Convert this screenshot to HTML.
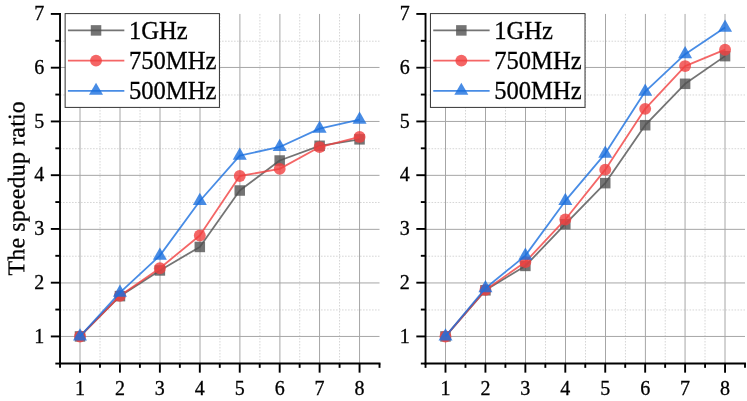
<!DOCTYPE html>
<html><head><meta charset="utf-8"><title>Speedup ratio</title>
<style>
html,body{margin:0;padding:0;background:#fff;}
body{width:747px;height:401px;overflow:hidden;}
svg{display:block;will-change:transform;}
text{font-family:"Liberation Serif",serif;fill:#000;stroke:#000;stroke-width:0.3px;}
.tk{font-size:20px;}
.lg{font-size:24.6px;}
.yl{font-size:24px;letter-spacing:0.15px;text-rendering:geometricPrecision;}
</style></head><body>
<svg width="747" height="401" viewBox="0 0 747 401">
<rect x="0" y="0" width="747" height="401" fill="#fff"/>
<line x1="60.03" y1="309.96" x2="379.51" y2="309.96" stroke="#d6d6d6" stroke-width="1" stroke-dasharray="1.6 1.4"/>
<line x1="60.03" y1="256.21" x2="379.51" y2="256.21" stroke="#d6d6d6" stroke-width="1" stroke-dasharray="1.6 1.4"/>
<line x1="60.03" y1="202.47" x2="379.51" y2="202.47" stroke="#d6d6d6" stroke-width="1" stroke-dasharray="1.6 1.4"/>
<line x1="60.03" y1="148.72" x2="379.51" y2="148.72" stroke="#d6d6d6" stroke-width="1" stroke-dasharray="1.6 1.4"/>
<line x1="60.03" y1="94.97" x2="379.51" y2="94.97" stroke="#d6d6d6" stroke-width="1" stroke-dasharray="1.6 1.4"/>
<line x1="60.03" y1="41.21" x2="379.51" y2="41.21" stroke="#d6d6d6" stroke-width="1" stroke-dasharray="1.6 1.4"/>
<line x1="100" y1="13.94" x2="100" y2="363.55" stroke="#d6d6d6" stroke-width="1" stroke-dasharray="1.6 1.4"/>
<line x1="140" y1="13.94" x2="140" y2="363.55" stroke="#d6d6d6" stroke-width="1" stroke-dasharray="1.6 1.4"/>
<line x1="180" y1="13.94" x2="180" y2="363.55" stroke="#d6d6d6" stroke-width="1" stroke-dasharray="1.6 1.4"/>
<line x1="219.95" y1="13.94" x2="219.95" y2="363.55" stroke="#d6d6d6" stroke-width="1" stroke-dasharray="1.6 1.4"/>
<line x1="259.9" y1="13.94" x2="259.9" y2="363.55" stroke="#d6d6d6" stroke-width="1" stroke-dasharray="1.6 1.4"/>
<line x1="299.73" y1="13.94" x2="299.73" y2="363.55" stroke="#d6d6d6" stroke-width="1" stroke-dasharray="1.6 1.4"/>
<line x1="339.55" y1="13.94" x2="339.55" y2="363.55" stroke="#d6d6d6" stroke-width="1" stroke-dasharray="1.6 1.4"/>
<line x1="60.03" y1="336.45" x2="379.51" y2="336.45" stroke="#a6a6a6" stroke-width="1"/>
<line x1="60.03" y1="282.95" x2="379.51" y2="282.95" stroke="#a6a6a6" stroke-width="1"/>
<line x1="60.03" y1="229.35" x2="379.51" y2="229.35" stroke="#a6a6a6" stroke-width="1"/>
<line x1="60.03" y1="175.35" x2="379.51" y2="175.35" stroke="#a6a6a6" stroke-width="1"/>
<line x1="60.03" y1="121.45" x2="379.51" y2="121.45" stroke="#a6a6a6" stroke-width="1"/>
<line x1="60.03" y1="67.45" x2="379.51" y2="67.45" stroke="#a6a6a6" stroke-width="1"/>
<line x1="80" y1="13.94" x2="80" y2="363.55" stroke="#a6a6a6" stroke-width="1"/>
<line x1="120" y1="13.94" x2="120" y2="363.55" stroke="#a6a6a6" stroke-width="1"/>
<line x1="160" y1="13.94" x2="160" y2="363.55" stroke="#a6a6a6" stroke-width="1"/>
<line x1="200" y1="13.94" x2="200" y2="363.55" stroke="#a6a6a6" stroke-width="1"/>
<line x1="239.9" y1="13.94" x2="239.9" y2="363.55" stroke="#a6a6a6" stroke-width="1"/>
<line x1="279.9" y1="13.94" x2="279.9" y2="363.55" stroke="#a6a6a6" stroke-width="1"/>
<line x1="319.55" y1="13.94" x2="319.55" y2="363.55" stroke="#a6a6a6" stroke-width="1"/>
<line x1="359.55" y1="13.94" x2="359.55" y2="363.55" stroke="#a6a6a6" stroke-width="1"/>
<polyline points="80,336.44 119.94,296.13 159.87,270.44 199.81,246.95 239.74,190.51 279.68,160.52 319.61,145.79 359.55,139.34" fill="none" stroke="#515151" stroke-opacity="0.8" stroke-width="1.8" stroke-linejoin="round"/>
<rect x="74.75" y="331.19" width="10.5" height="10.5" fill="#515151" fill-opacity="0.8"/>
<rect x="114.69" y="290.88" width="10.5" height="10.5" fill="#515151" fill-opacity="0.8"/>
<rect x="154.62" y="265.19" width="10.5" height="10.5" fill="#515151" fill-opacity="0.8"/>
<rect x="194.56" y="241.7" width="10.5" height="10.5" fill="#515151" fill-opacity="0.8"/>
<rect x="234.49" y="185.26" width="10.5" height="10.5" fill="#515151" fill-opacity="0.8"/>
<rect x="274.43" y="155.27" width="10.5" height="10.5" fill="#515151" fill-opacity="0.8"/>
<rect x="314.36" y="140.54" width="10.5" height="10.5" fill="#515151" fill-opacity="0.8"/>
<rect x="354.3" y="134.09" width="10.5" height="10.5" fill="#515151" fill-opacity="0.8"/>
<polyline points="80,336.44 119.94,295.75 159.87,268.18 199.81,235.5 239.74,176 279.68,168.9 319.61,147.08 359.55,136.92" fill="none" stroke="#F14040" stroke-opacity="0.8" stroke-width="1.8" stroke-linejoin="round"/>
<circle cx="80" cy="336.44" r="5.95" fill="#F14040" fill-opacity="0.8"/>
<circle cx="119.94" cy="295.75" r="5.95" fill="#F14040" fill-opacity="0.8"/>
<circle cx="159.87" cy="268.18" r="5.95" fill="#F14040" fill-opacity="0.8"/>
<circle cx="199.81" cy="235.5" r="5.95" fill="#F14040" fill-opacity="0.8"/>
<circle cx="239.74" cy="176" r="5.95" fill="#F14040" fill-opacity="0.8"/>
<circle cx="279.68" cy="168.9" r="5.95" fill="#F14040" fill-opacity="0.8"/>
<circle cx="319.61" cy="147.08" r="5.95" fill="#F14040" fill-opacity="0.8"/>
<circle cx="359.55" cy="136.92" r="5.95" fill="#F14040" fill-opacity="0.8"/>
<polyline points="80,336.44 119.94,292.69 159.87,255.65 199.81,200.99 239.74,155.57 279.68,146.97 319.61,128.64 359.55,119.61" fill="none" stroke="#1A6FDF" stroke-opacity="0.8" stroke-width="1.8" stroke-linejoin="round"/>
<polygon points="80,328.31 73,340.51 87,340.51" fill="#1A6FDF" fill-opacity="0.8"/>
<polygon points="119.94,284.55 112.94,296.75 126.94,296.75" fill="#1A6FDF" fill-opacity="0.8"/>
<polygon points="159.87,247.52 152.87,259.72 166.87,259.72" fill="#1A6FDF" fill-opacity="0.8"/>
<polygon points="199.81,192.86 192.81,205.06 206.81,205.06" fill="#1A6FDF" fill-opacity="0.8"/>
<polygon points="239.74,147.44 232.74,159.64 246.74,159.64" fill="#1A6FDF" fill-opacity="0.8"/>
<polygon points="279.68,138.84 272.68,151.04 286.68,151.04" fill="#1A6FDF" fill-opacity="0.8"/>
<polygon points="319.61,120.51 312.61,132.71 326.61,132.71" fill="#1A6FDF" fill-opacity="0.8"/>
<polygon points="359.55,111.48 352.55,123.68 366.55,123.68" fill="#1A6FDF" fill-opacity="0.8"/>
<line x1="60.03" y1="12.99" x2="60.03" y2="364.5" stroke="#000" stroke-width="1.9"/>
<line x1="59.08" y1="363.55" x2="380.46" y2="363.55" stroke="#000" stroke-width="1.9"/>
<line x1="50.83" y1="336.44" x2="60.03" y2="336.44" stroke="#000" stroke-width="1.9"/>
<text x="44.13" y="342.54" text-anchor="end" class="tk">1</text>
<line x1="50.83" y1="282.69" x2="60.03" y2="282.69" stroke="#000" stroke-width="1.9"/>
<text x="44.13" y="288.79" text-anchor="end" class="tk">2</text>
<line x1="50.83" y1="228.94" x2="60.03" y2="228.94" stroke="#000" stroke-width="1.9"/>
<text x="44.13" y="235.04" text-anchor="end" class="tk">3</text>
<line x1="50.83" y1="175.19" x2="60.03" y2="175.19" stroke="#000" stroke-width="1.9"/>
<text x="44.13" y="181.29" text-anchor="end" class="tk">4</text>
<line x1="50.83" y1="121.44" x2="60.03" y2="121.44" stroke="#000" stroke-width="1.9"/>
<text x="44.13" y="127.54" text-anchor="end" class="tk">5</text>
<line x1="50.83" y1="67.69" x2="60.03" y2="67.69" stroke="#000" stroke-width="1.9"/>
<text x="44.13" y="73.79" text-anchor="end" class="tk">6</text>
<line x1="50.83" y1="13.94" x2="60.03" y2="13.94" stroke="#000" stroke-width="1.9"/>
<text x="44.13" y="20.04" text-anchor="end" class="tk">7</text>
<line x1="55.33" y1="363.55" x2="60.03" y2="363.55" stroke="#000" stroke-width="1.9"/>
<line x1="55.33" y1="309.56" x2="60.03" y2="309.56" stroke="#000" stroke-width="1.9"/>
<line x1="55.33" y1="255.81" x2="60.03" y2="255.81" stroke="#000" stroke-width="1.9"/>
<line x1="55.33" y1="202.06" x2="60.03" y2="202.06" stroke="#000" stroke-width="1.9"/>
<line x1="55.33" y1="148.31" x2="60.03" y2="148.31" stroke="#000" stroke-width="1.9"/>
<line x1="55.33" y1="94.56" x2="60.03" y2="94.56" stroke="#000" stroke-width="1.9"/>
<line x1="55.33" y1="40.81" x2="60.03" y2="40.81" stroke="#000" stroke-width="1.9"/>
<line x1="80" y1="363.55" x2="80" y2="372.65" stroke="#000" stroke-width="1.9"/>
<text x="80" y="395" text-anchor="middle" class="tk">1</text>
<line x1="119.94" y1="363.55" x2="119.94" y2="372.65" stroke="#000" stroke-width="1.9"/>
<text x="119.94" y="395" text-anchor="middle" class="tk">2</text>
<line x1="159.87" y1="363.55" x2="159.87" y2="372.65" stroke="#000" stroke-width="1.9"/>
<text x="159.87" y="395" text-anchor="middle" class="tk">3</text>
<line x1="199.81" y1="363.55" x2="199.81" y2="372.65" stroke="#000" stroke-width="1.9"/>
<text x="199.81" y="395" text-anchor="middle" class="tk">4</text>
<line x1="239.74" y1="363.55" x2="239.74" y2="372.65" stroke="#000" stroke-width="1.9"/>
<text x="239.74" y="395" text-anchor="middle" class="tk">5</text>
<line x1="279.68" y1="363.55" x2="279.68" y2="372.65" stroke="#000" stroke-width="1.9"/>
<text x="279.68" y="395" text-anchor="middle" class="tk">6</text>
<line x1="319.61" y1="363.55" x2="319.61" y2="372.65" stroke="#000" stroke-width="1.9"/>
<text x="319.61" y="395" text-anchor="middle" class="tk">7</text>
<line x1="359.55" y1="363.55" x2="359.55" y2="372.65" stroke="#000" stroke-width="1.9"/>
<text x="359.55" y="395" text-anchor="middle" class="tk">8</text>
<line x1="60.03" y1="363.55" x2="60.03" y2="367.85" stroke="#000" stroke-width="1.9"/>
<line x1="99.97" y1="363.55" x2="99.97" y2="367.85" stroke="#000" stroke-width="1.9"/>
<line x1="139.9" y1="363.55" x2="139.9" y2="367.85" stroke="#000" stroke-width="1.9"/>
<line x1="179.84" y1="363.55" x2="179.84" y2="367.85" stroke="#000" stroke-width="1.9"/>
<line x1="219.77" y1="363.55" x2="219.77" y2="367.85" stroke="#000" stroke-width="1.9"/>
<line x1="259.71" y1="363.55" x2="259.71" y2="367.85" stroke="#000" stroke-width="1.9"/>
<line x1="299.64" y1="363.55" x2="299.64" y2="367.85" stroke="#000" stroke-width="1.9"/>
<line x1="339.58" y1="363.55" x2="339.58" y2="367.85" stroke="#000" stroke-width="1.9"/>
<line x1="379.51" y1="363.55" x2="379.51" y2="367.85" stroke="#000" stroke-width="1.9"/>
<rect x="65.13" y="13.6" width="154.3" height="93.8" fill="#fff" stroke="#333" stroke-width="1"/>
<line x1="67.93" y1="30.4" x2="124.33" y2="30.4" stroke="#515151" stroke-opacity="0.8" stroke-width="1.8"/>
<rect x="90.78" y="25.15" width="10.5" height="10.5" fill="#515151" fill-opacity="0.8"/>
<text x="128.93" y="38.6" class="lg">1GHz</text>
<line x1="67.93" y1="60.6" x2="124.33" y2="60.6" stroke="#F14040" stroke-opacity="0.8" stroke-width="1.8"/>
<circle cx="96.03" cy="60.6" r="5.95" fill="#F14040" fill-opacity="0.8"/>
<text x="128.93" y="68.8" class="lg">750MHz</text>
<line x1="67.93" y1="90.8" x2="124.33" y2="90.8" stroke="#1A6FDF" stroke-opacity="0.8" stroke-width="1.8"/>
<polygon points="96.03,82.67 89.03,94.87 103.03,94.87" fill="#1A6FDF" fill-opacity="0.8"/>
<text x="128.93" y="99" class="lg">500MHz</text>
<text transform="translate(24.4,188.3) rotate(-89.97)" text-anchor="middle" class="yl">The speedup ratio</text>
<line x1="425.53" y1="309.96" x2="745.01" y2="309.96" stroke="#d6d6d6" stroke-width="1" stroke-dasharray="1.6 1.4"/>
<line x1="425.53" y1="256.21" x2="745.01" y2="256.21" stroke="#d6d6d6" stroke-width="1" stroke-dasharray="1.6 1.4"/>
<line x1="425.53" y1="202.47" x2="745.01" y2="202.47" stroke="#d6d6d6" stroke-width="1" stroke-dasharray="1.6 1.4"/>
<line x1="425.53" y1="148.72" x2="745.01" y2="148.72" stroke="#d6d6d6" stroke-width="1" stroke-dasharray="1.6 1.4"/>
<line x1="425.53" y1="94.97" x2="745.01" y2="94.97" stroke="#d6d6d6" stroke-width="1" stroke-dasharray="1.6 1.4"/>
<line x1="425.53" y1="41.21" x2="745.01" y2="41.21" stroke="#d6d6d6" stroke-width="1" stroke-dasharray="1.6 1.4"/>
<line x1="465.5" y1="13.94" x2="465.5" y2="363.55" stroke="#d6d6d6" stroke-width="1" stroke-dasharray="1.6 1.4"/>
<line x1="505.5" y1="13.94" x2="505.5" y2="363.55" stroke="#d6d6d6" stroke-width="1" stroke-dasharray="1.6 1.4"/>
<line x1="545.5" y1="13.94" x2="545.5" y2="363.55" stroke="#d6d6d6" stroke-width="1" stroke-dasharray="1.6 1.4"/>
<line x1="585.5" y1="13.94" x2="585.5" y2="363.55" stroke="#d6d6d6" stroke-width="1" stroke-dasharray="1.6 1.4"/>
<line x1="625.45" y1="13.94" x2="625.45" y2="363.55" stroke="#d6d6d6" stroke-width="1" stroke-dasharray="1.6 1.4"/>
<line x1="665.22" y1="13.94" x2="665.22" y2="363.55" stroke="#d6d6d6" stroke-width="1" stroke-dasharray="1.6 1.4"/>
<line x1="705.02" y1="13.94" x2="705.02" y2="363.55" stroke="#d6d6d6" stroke-width="1" stroke-dasharray="1.6 1.4"/>
<line x1="425.53" y1="336.45" x2="745.01" y2="336.45" stroke="#a6a6a6" stroke-width="1"/>
<line x1="425.53" y1="282.95" x2="745.01" y2="282.95" stroke="#a6a6a6" stroke-width="1"/>
<line x1="425.53" y1="229.35" x2="745.01" y2="229.35" stroke="#a6a6a6" stroke-width="1"/>
<line x1="425.53" y1="175.35" x2="745.01" y2="175.35" stroke="#a6a6a6" stroke-width="1"/>
<line x1="425.53" y1="121.45" x2="745.01" y2="121.45" stroke="#a6a6a6" stroke-width="1"/>
<line x1="425.53" y1="67.45" x2="745.01" y2="67.45" stroke="#a6a6a6" stroke-width="1"/>
<line x1="445.5" y1="13.94" x2="445.5" y2="363.55" stroke="#a6a6a6" stroke-width="1"/>
<line x1="485.5" y1="13.94" x2="485.5" y2="363.55" stroke="#a6a6a6" stroke-width="1"/>
<line x1="525.5" y1="13.94" x2="525.5" y2="363.55" stroke="#a6a6a6" stroke-width="1"/>
<line x1="565.5" y1="13.94" x2="565.5" y2="363.55" stroke="#a6a6a6" stroke-width="1"/>
<line x1="605.5" y1="13.94" x2="605.5" y2="363.55" stroke="#a6a6a6" stroke-width="1"/>
<line x1="645.4" y1="13.94" x2="645.4" y2="363.55" stroke="#a6a6a6" stroke-width="1"/>
<line x1="685.05" y1="13.94" x2="685.05" y2="363.55" stroke="#a6a6a6" stroke-width="1"/>
<line x1="725" y1="13.94" x2="725" y2="363.55" stroke="#a6a6a6" stroke-width="1"/>
<polyline points="445.5,336.44 485.44,290.32 525.37,265.92 565.31,224.21 605.24,183.15 645.17,125.2 685.11,83.81 725.05,56.13" fill="none" stroke="#515151" stroke-opacity="0.8" stroke-width="1.8" stroke-linejoin="round"/>
<rect x="440.25" y="331.19" width="10.5" height="10.5" fill="#515151" fill-opacity="0.8"/>
<rect x="480.19" y="285.07" width="10.5" height="10.5" fill="#515151" fill-opacity="0.8"/>
<rect x="520.12" y="260.67" width="10.5" height="10.5" fill="#515151" fill-opacity="0.8"/>
<rect x="560.06" y="218.96" width="10.5" height="10.5" fill="#515151" fill-opacity="0.8"/>
<rect x="599.99" y="177.9" width="10.5" height="10.5" fill="#515151" fill-opacity="0.8"/>
<rect x="639.92" y="119.95" width="10.5" height="10.5" fill="#515151" fill-opacity="0.8"/>
<rect x="679.86" y="78.56" width="10.5" height="10.5" fill="#515151" fill-opacity="0.8"/>
<rect x="719.8" y="50.88" width="10.5" height="10.5" fill="#515151" fill-opacity="0.8"/>
<polyline points="445.5,336.44 485.44,289.89 525.37,262 565.31,219.48 605.24,169.65 645.17,108.86 685.11,66.08 725.05,49.68" fill="none" stroke="#F14040" stroke-opacity="0.8" stroke-width="1.8" stroke-linejoin="round"/>
<circle cx="445.5" cy="336.44" r="5.95" fill="#F14040" fill-opacity="0.8"/>
<circle cx="485.44" cy="289.89" r="5.95" fill="#F14040" fill-opacity="0.8"/>
<circle cx="525.37" cy="262" r="5.95" fill="#F14040" fill-opacity="0.8"/>
<circle cx="565.31" cy="219.48" r="5.95" fill="#F14040" fill-opacity="0.8"/>
<circle cx="605.24" cy="169.65" r="5.95" fill="#F14040" fill-opacity="0.8"/>
<circle cx="645.17" cy="108.86" r="5.95" fill="#F14040" fill-opacity="0.8"/>
<circle cx="685.11" cy="66.08" r="5.95" fill="#F14040" fill-opacity="0.8"/>
<circle cx="725.05" cy="49.68" r="5.95" fill="#F14040" fill-opacity="0.8"/>
<polyline points="445.5,336.44 485.44,288.23 525.37,255.65 565.31,200.94 605.24,153.58 645.17,91.61 685.11,54.2 725.05,27.59" fill="none" stroke="#1A6FDF" stroke-opacity="0.8" stroke-width="1.8" stroke-linejoin="round"/>
<polygon points="445.5,328.31 438.5,340.51 452.5,340.51" fill="#1A6FDF" fill-opacity="0.8"/>
<polygon points="485.44,280.09 478.44,292.29 492.44,292.29" fill="#1A6FDF" fill-opacity="0.8"/>
<polygon points="525.37,247.52 518.37,259.72 532.37,259.72" fill="#1A6FDF" fill-opacity="0.8"/>
<polygon points="565.31,192.8 558.31,205 572.31,205" fill="#1A6FDF" fill-opacity="0.8"/>
<polygon points="605.24,145.45 598.24,157.65 612.24,157.65" fill="#1A6FDF" fill-opacity="0.8"/>
<polygon points="645.17,83.48 638.17,95.68 652.17,95.68" fill="#1A6FDF" fill-opacity="0.8"/>
<polygon points="685.11,46.07 678.11,58.27 692.11,58.27" fill="#1A6FDF" fill-opacity="0.8"/>
<polygon points="725.05,19.46 718.05,31.66 732.05,31.66" fill="#1A6FDF" fill-opacity="0.8"/>
<line x1="425.53" y1="12.99" x2="425.53" y2="364.5" stroke="#000" stroke-width="1.9"/>
<line x1="424.58" y1="363.55" x2="745.96" y2="363.55" stroke="#000" stroke-width="1.9"/>
<line x1="416.33" y1="336.44" x2="425.53" y2="336.44" stroke="#000" stroke-width="1.9"/>
<text x="409.63" y="342.54" text-anchor="end" class="tk">1</text>
<line x1="416.33" y1="282.69" x2="425.53" y2="282.69" stroke="#000" stroke-width="1.9"/>
<text x="409.63" y="288.79" text-anchor="end" class="tk">2</text>
<line x1="416.33" y1="228.94" x2="425.53" y2="228.94" stroke="#000" stroke-width="1.9"/>
<text x="409.63" y="235.04" text-anchor="end" class="tk">3</text>
<line x1="416.33" y1="175.19" x2="425.53" y2="175.19" stroke="#000" stroke-width="1.9"/>
<text x="409.63" y="181.29" text-anchor="end" class="tk">4</text>
<line x1="416.33" y1="121.44" x2="425.53" y2="121.44" stroke="#000" stroke-width="1.9"/>
<text x="409.63" y="127.54" text-anchor="end" class="tk">5</text>
<line x1="416.33" y1="67.69" x2="425.53" y2="67.69" stroke="#000" stroke-width="1.9"/>
<text x="409.63" y="73.79" text-anchor="end" class="tk">6</text>
<line x1="416.33" y1="13.94" x2="425.53" y2="13.94" stroke="#000" stroke-width="1.9"/>
<text x="409.63" y="20.04" text-anchor="end" class="tk">7</text>
<line x1="420.83" y1="363.55" x2="425.53" y2="363.55" stroke="#000" stroke-width="1.9"/>
<line x1="420.83" y1="309.56" x2="425.53" y2="309.56" stroke="#000" stroke-width="1.9"/>
<line x1="420.83" y1="255.81" x2="425.53" y2="255.81" stroke="#000" stroke-width="1.9"/>
<line x1="420.83" y1="202.06" x2="425.53" y2="202.06" stroke="#000" stroke-width="1.9"/>
<line x1="420.83" y1="148.31" x2="425.53" y2="148.31" stroke="#000" stroke-width="1.9"/>
<line x1="420.83" y1="94.56" x2="425.53" y2="94.56" stroke="#000" stroke-width="1.9"/>
<line x1="420.83" y1="40.81" x2="425.53" y2="40.81" stroke="#000" stroke-width="1.9"/>
<line x1="445.5" y1="363.55" x2="445.5" y2="372.65" stroke="#000" stroke-width="1.9"/>
<text x="445.5" y="395" text-anchor="middle" class="tk">1</text>
<line x1="485.44" y1="363.55" x2="485.44" y2="372.65" stroke="#000" stroke-width="1.9"/>
<text x="485.44" y="395" text-anchor="middle" class="tk">2</text>
<line x1="525.37" y1="363.55" x2="525.37" y2="372.65" stroke="#000" stroke-width="1.9"/>
<text x="525.37" y="395" text-anchor="middle" class="tk">3</text>
<line x1="565.31" y1="363.55" x2="565.31" y2="372.65" stroke="#000" stroke-width="1.9"/>
<text x="565.31" y="395" text-anchor="middle" class="tk">4</text>
<line x1="605.24" y1="363.55" x2="605.24" y2="372.65" stroke="#000" stroke-width="1.9"/>
<text x="605.24" y="395" text-anchor="middle" class="tk">5</text>
<line x1="645.17" y1="363.55" x2="645.17" y2="372.65" stroke="#000" stroke-width="1.9"/>
<text x="645.17" y="395" text-anchor="middle" class="tk">6</text>
<line x1="685.11" y1="363.55" x2="685.11" y2="372.65" stroke="#000" stroke-width="1.9"/>
<text x="685.11" y="395" text-anchor="middle" class="tk">7</text>
<line x1="725.05" y1="363.55" x2="725.05" y2="372.65" stroke="#000" stroke-width="1.9"/>
<text x="725.05" y="395" text-anchor="middle" class="tk">8</text>
<line x1="425.53" y1="363.55" x2="425.53" y2="367.85" stroke="#000" stroke-width="1.9"/>
<line x1="465.47" y1="363.55" x2="465.47" y2="367.85" stroke="#000" stroke-width="1.9"/>
<line x1="505.4" y1="363.55" x2="505.4" y2="367.85" stroke="#000" stroke-width="1.9"/>
<line x1="545.34" y1="363.55" x2="545.34" y2="367.85" stroke="#000" stroke-width="1.9"/>
<line x1="585.27" y1="363.55" x2="585.27" y2="367.85" stroke="#000" stroke-width="1.9"/>
<line x1="625.21" y1="363.55" x2="625.21" y2="367.85" stroke="#000" stroke-width="1.9"/>
<line x1="665.14" y1="363.55" x2="665.14" y2="367.85" stroke="#000" stroke-width="1.9"/>
<line x1="705.08" y1="363.55" x2="705.08" y2="367.85" stroke="#000" stroke-width="1.9"/>
<line x1="745.01" y1="363.55" x2="745.01" y2="367.85" stroke="#000" stroke-width="1.9"/>
<rect x="430.43" y="13.6" width="154.6" height="93.8" fill="#fff" stroke="#333" stroke-width="1"/>
<line x1="433.23" y1="30.4" x2="489.63" y2="30.4" stroke="#515151" stroke-opacity="0.8" stroke-width="1.8"/>
<rect x="456.08" y="25.15" width="10.5" height="10.5" fill="#515151" fill-opacity="0.8"/>
<text x="494.23" y="38.6" class="lg">1GHz</text>
<line x1="433.23" y1="60.6" x2="489.63" y2="60.6" stroke="#F14040" stroke-opacity="0.8" stroke-width="1.8"/>
<circle cx="461.33" cy="60.6" r="5.95" fill="#F14040" fill-opacity="0.8"/>
<text x="494.23" y="68.8" class="lg">750MHz</text>
<line x1="433.23" y1="90.8" x2="489.63" y2="90.8" stroke="#1A6FDF" stroke-opacity="0.8" stroke-width="1.8"/>
<polygon points="461.33,82.67 454.33,94.87 468.33,94.87" fill="#1A6FDF" fill-opacity="0.8"/>
<text x="494.23" y="99" class="lg">500MHz</text>
</svg>
</body></html>
